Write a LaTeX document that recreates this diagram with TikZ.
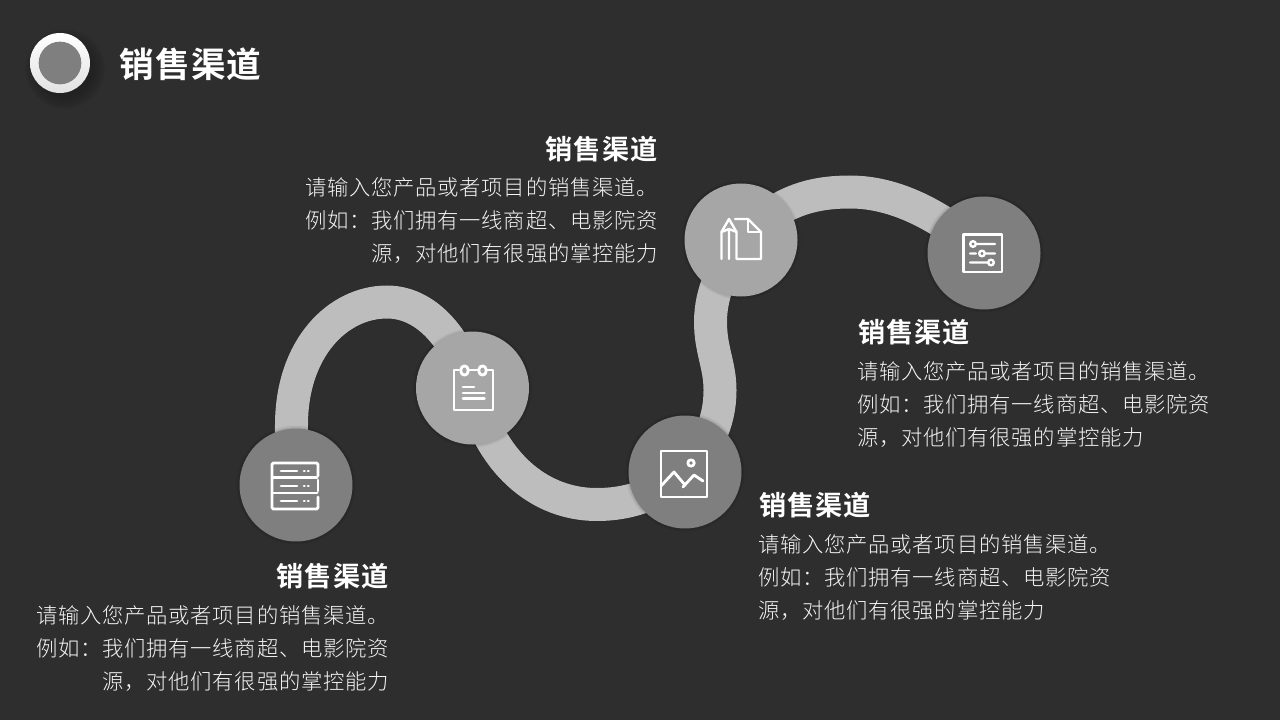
\documentclass[tikz,border=0pt]{standalone}
\usepackage{fontspec}
\newfontfamily\cjkbody[LetterSpace=3.5]{Noto Sans CJK SC Light}
\newfontfamily\cjkhead[LetterSpace=3]{Noto Sans CJK SC Bold}
\usetikzlibrary{calc}
\definecolor{bgc}{HTML}{2E2E2E}
\definecolor{ribbonc}{HTML}{BDBDBD}
\definecolor{darkdisc}{HTML}{7F7F7F}
\definecolor{lightdisc}{HTML}{A6A6A6}
\definecolor{bodyc}{HTML}{F4F4F4}
\definecolor{headerlow}{HTML}{E2E2E2}
\newcommand{\hd}{销售渠道}
\newcommand{\softshadow}[3]{% centre, radius, strength
  \foreach \s in {1,...,4}{\fill[black,opacity=#3] #1 circle[radius=#2+\s*0.9];}}
\tikzset{
  x=0.75pt,y=-0.75pt,
  disc/.style={circle,inner sep=0pt,minimum size=84.75pt},
  darkd/.style={disc,fill=darkdisc},
  lightd/.style={disc,fill=lightdisc},
  ribbon/.style={line width=24.75pt,draw=ribbonc,line cap=butt},
  ribbonedge/.style={line width=25.8pt,draw=black,opacity=0.12,line cap=butt},
  icon/.style={draw=white,line width=2.1pt,line cap=round,line join=round},
  iconthin/.style={draw=white,line width=1.8pt,line cap=round,line join=round},
  headnode/.style={inner sep=0pt,text=white,font=\fontsize{20.4pt}{24pt}\selectfont\cjkhead},
  bodynode/.style={inner sep=0pt,text=bodyc,font=\fontsize{16pt}{24.75pt}\selectfont\cjkbody},
}
\begin{document}
\begin{tikzpicture}
\useasboundingbox (0,0) rectangle (1280,720);
\fill[bgc] (0,0) rectangle (1280,720);
% discs positions
\coordinate (p1) at (296,485);
\coordinate (p2) at (472.5,388);
\coordinate (p3) at (685,472);
\coordinate (p4) at (741,240);
\coordinate (p5) at (984,253);
\coordinate (top1) at (387,302);
\coordinate (low2) at (597,504.5);
\coordinate (mid3) at (720,390);
\coordinate (mid4) at (710.5,322);
\coordinate (top4) at (850,192);
% ribbons
\foreach \st in {ribbonedge,ribbon}{
  \draw[\st] (p1) .. controls (291,455) and (291,440) .. (291.5,425)
     .. controls (291.5,348) and (338,302) .. (top1)
     .. controls (420,302) and (453,328) .. (p2);
  \draw[\st] (p2) .. controls (485,450) and (530,504.5) .. (low2)
     .. controls (625,504.5) and (655,497) .. (p3);
  \draw[\st] (p3) .. controls (705,450) and (720,425) .. (mid3)
     .. controls (720,365) and (710.5,350) .. (mid4)
     .. controls (710.5,290) and (725,265) .. (p4);
  \draw[\st] (p4) .. controls (775,205) and (805,192) .. (top4)
     .. controls (895,192) and (940,215) .. (p5);
}
% disc shadows
\foreach \c in {p1,p2,p3,p4,p5}{\softshadow{(\c)}{56}{0.035}}
% discs
\node[darkd]  (c1) at (p1) {};
\node[lightd] (c2) at (p2) {};
\node[darkd]  (c3) at (p3) {};
\node[lightd] (c4) at (p4) {};
\node[darkd]  (c5) at (p5) {};
% header badge
\foreach \s in {1,...,10}{\fill[black,opacity=0.022] (65,69) circle[radius=27+\s*1.3];}
\node[circle,inner sep=0pt,minimum size=45pt,top color=white,bottom color=headerlow] (badge) at (60,63) {};
\node[circle,inner sep=0pt,minimum size=32pt,fill=darkdisc] (badgein) at (60,63) {};
% icon 1 server
\draw[icon,rounded corners=1pt] (318,476) -- (318,463) -- (272,463) -- (272,509) -- (318,509) -- (318,497);
\draw[icon] (273,477.5) -- (317,477.5) (318,480) -- (318,491) (273,493) -- (317,493);
\foreach \y in {471,486,501}{
  \draw[icon] (281,\y) -- (297,\y);
  \draw[icon] (304,\y) -- (304.5,\y) (308,\y) -- (308.5,\y);
}
% icon 2 notepad
\draw[icon] (459,370) -- (454,370) -- (454,410) -- (493,410) -- (493,370) -- (487,370);
\draw[icon] (468,370) -- (478,370);
\draw[icon,rounded corners=2.5pt] (461,366) rectangle (468,375);
\draw[icon,rounded corners=2.5pt] (479,366) rectangle (486,375);
\draw[icon] (463,387) -- (474,387) (463,393) -- (484.5,393) (463,398.5) -- (484.5,398.5);
% icon 3 picture
\draw[icon] (661,451) rectangle (707,497);
\draw[icon] (691,463) circle[radius=3.2];
\draw[icon] (661,486) -- (674,472) -- (685,485);
\draw[icon] (683,487) -- (694,475) -- (703,481);
% icon 4 pencil and page
\draw[iconthin] (721.5,259) -- (721.5,232) -- (729,219) -- (736.5,232) -- (736.5,259) -- (761,259) -- (761,232) -- (748,219) -- (735,219);
\draw[iconthin] (721.5,232) -- (729,229) -- (736.5,232) (729,229) -- (729,259);
\draw[iconthin] (748,219) -- (748,232) -- (761,232);
% icon 5 sliders
\draw[icon] (963.5,234.5) rectangle (1002,272);
\draw[iconthin] (973,244) circle[radius=2.8] (976,244) -- (995,244);
\draw[iconthin] (970,253.5) -- (976,253.5) (982,253.5) circle[radius=2.8] (985,253.5) -- (995,253.5);
\draw[iconthin] (970,262.5) -- (987,262.5) (991,262.5) circle[radius=2.8];
% header title
\node[inner sep=0pt,text=white,anchor=west,font=\fontsize{26pt}{30pt}\selectfont\cjkhead] (title) at (119.5,64) {\hd};
% block: top
\node[headnode,anchor=east] (h1) at (657.5,149) {\hd};
\node[bodynode,anchor=north east,align=right] (b1) at (658,177.5) {请输入您产品或者项目的销售渠道。\\例如：我们拥有一线商超、电影院资\\源，对他们有很强的掌控能力};
% block: right upper
\node[headnode,anchor=west] (h2) at (858,332.5) {\hd};
\node[bodynode,anchor=north west,align=left] (b2) at (857,361.5) {请输入您产品或者项目的销售渠道。\\例如：我们拥有一线商超、电影院资\\源，对他们有很强的掌控能力};
% block: right lower
\node[headnode,anchor=west] (h3) at (759,505.5) {\hd};
\node[bodynode,anchor=north west,align=left] (b3) at (758,534.5) {请输入您产品或者项目的销售渠道。\\例如：我们拥有一线商超、电影院资\\源，对他们有很强的掌控能力};
% block: left
\node[headnode,anchor=east] (h4) at (388.5,576.5) {\hd};
\node[bodynode,anchor=north east,align=right] (b4) at (389,605.5) {请输入您产品或者项目的销售渠道。\\例如：我们拥有一线商超、电影院资\\源，对他们有很强的掌控能力};
\end{tikzpicture}
\end{document}
